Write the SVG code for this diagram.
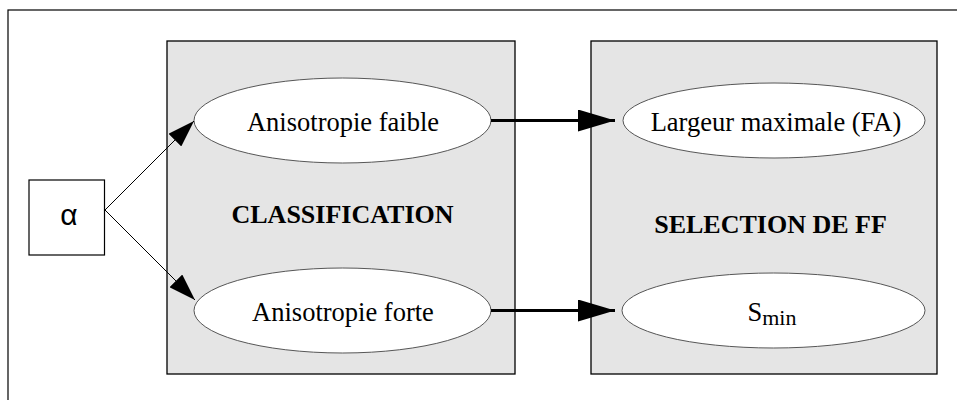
<svg xmlns="http://www.w3.org/2000/svg" width="957" height="400" viewBox="0 0 957 400">
<style>
.frame{fill:#fff;stroke:#000;stroke-width:1.2}
.panel{fill:#e5e5e5;stroke:#000;stroke-width:1.3}
.ell{fill:#fff;stroke:#444;stroke-width:0.9}
.box{fill:#fff;stroke:#000;stroke-width:1.2}
.t{font-family:"Liberation Serif","Times New Roman",serif;font-size:26.5px;fill:#000;text-anchor:middle}
.b{font-family:"Liberation Serif","Times New Roman",serif;font-size:26px;font-weight:bold;fill:#000;text-anchor:middle}
.thin{stroke:#000;stroke-width:1;fill:none}
.thick{stroke:#000;stroke-width:3;fill:none}
</style>
<defs>
<marker id="ahThin" viewBox="0 0 27 18" refX="27" refY="9" markerWidth="27" markerHeight="18" markerUnits="userSpaceOnUse" orient="auto">
<path d="M0,0 L27,9 L0,18 Z" fill="#000"/>
</marker>
<marker id="ahThick" viewBox="0 0 37 22" refX="37" refY="11" markerWidth="37" markerHeight="22" markerUnits="userSpaceOnUse" orient="auto">
<path d="M0,0 L37,11 L0,22 Z" fill="#000"/>
</marker>
</defs>
<rect width="957" height="400" fill="#fff"/>
<rect class="frame" x="8" y="10" width="960" height="400"/>
<g id="classification">
<rect class="panel" x="167" y="41" width="348" height="333"/>
<text class="b" x="342.5" y="223">CLASSIFICATION</text>
</g>
<g id="selection">
<rect class="panel" x="591" y="41" width="346" height="333"/>
<text class="b" x="770.5" y="233">SELECTION DE FF</text>
</g>
<g id="alpha">
<rect class="box" x="29" y="180" width="75.5" height="75"/>
<text x="69" y="225" style="font-family:'Liberation Sans',Arial,sans-serif;font-size:30px;text-anchor:middle">α</text>
</g>
<g id="faible">
<ellipse class="ell" cx="342.5" cy="120.5" rx="148.5" ry="42.5"/>
<text class="t" x="343" y="131">Anisotropie faible</text>
</g>
<g id="forte">
<ellipse class="ell" cx="342.5" cy="310.5" rx="148.5" ry="42.5"/>
<text class="t" x="343" y="321">Anisotropie forte</text>
</g>
<g id="largeur">
<ellipse class="ell" cx="774" cy="120.5" rx="151" ry="37.5"/>
<text class="t" x="776" y="131">Largeur maximale (FA)</text>
</g>
<g id="smin">
<ellipse class="ell" cx="773.5" cy="310.5" rx="151.5" ry="37.5"/>
<text class="t" x="772" y="321">S<tspan font-size="22" dy="4">min</tspan></text>
</g>
<g id="connectors">
<path class="thin" d="M105,210 L194,121" marker-end="url(#ahThin)"/>
<path class="thin" d="M105,210 L195,300" marker-end="url(#ahThin)"/>
<path class="thick" d="M491,120.5 L615,120.5" marker-end="url(#ahThick)"/>
<path class="thick" d="M491,310.5 L615,310.5" marker-end="url(#ahThick)"/>
</g>
</svg>
